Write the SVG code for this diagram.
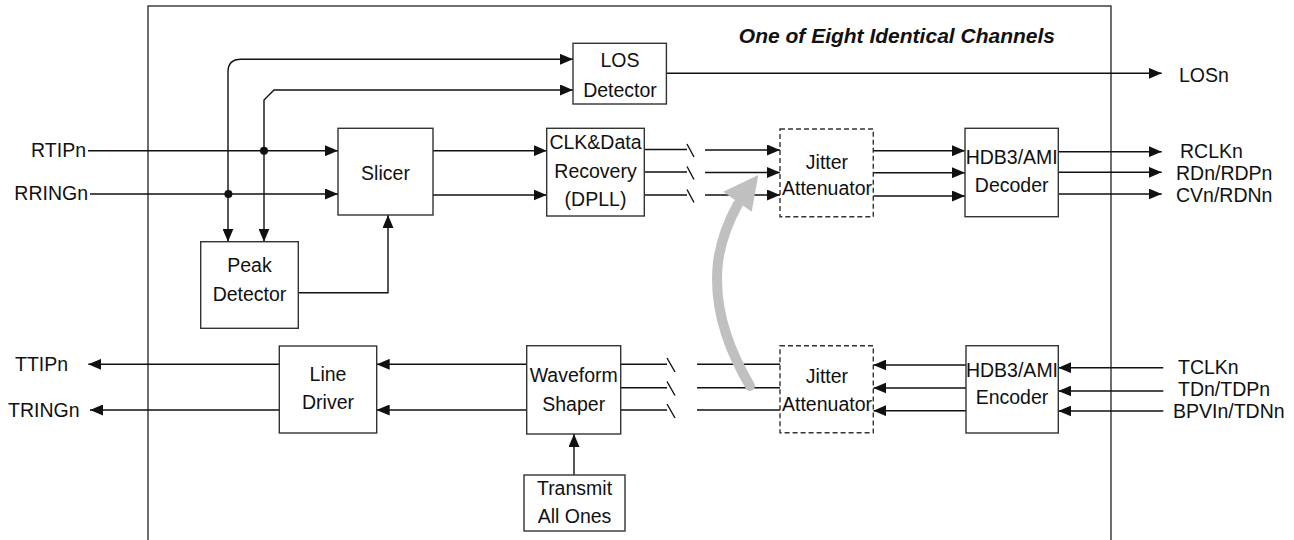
<svg xmlns="http://www.w3.org/2000/svg" width="1294" height="540" viewBox="0 0 1294 540">
<defs>
<marker id="ah" viewBox="0 0 13 11" refX="13" refY="5.5" markerWidth="13" markerHeight="11" markerUnits="userSpaceOnUse" orient="auto-start-reverse">
<path d="M0,0 L13,5.5 L0,11 z" fill="#111"/>
</marker>
<style>
text{font-family:"Liberation Sans",Arial,sans-serif;font-size:19.5px;fill:#111}
.c{text-anchor:middle}
.e{text-anchor:end}
.t{font-weight:bold;font-style:italic;font-size:21px}
.box{fill:#fff;stroke:#333;stroke-width:1.4}
.dash{fill:#fff;stroke:#333;stroke-width:1.4;stroke-dasharray:5,3}
.w{fill:none;stroke:#111;stroke-width:1.4}
.a{fill:none;stroke:#111;stroke-width:1.4;marker-end:url(#ah)}
.aa{fill:none;stroke:#111;stroke-width:1.4;marker-end:url(#ah);marker-start:url(#ah)}
</style>
</defs>
<rect x="148" y="6" width="963" height="560" fill="none" stroke="#333" stroke-width="1.4"/>
<text x="1055" y="43" class="e t">One of Eight Identical Channels</text>

<g id="connectors">
<path class="aa" d="M228,241.7 V72 Q228,59.3 241,59.3 H573"/>
<path class="aa" d="M264,241.7 V100 L274,90 H573"/>
<path class="a" d="M88,150.7 H338"/>
<path class="a" d="M90,194 H338"/>
<circle cx="264" cy="150.7" r="4" fill="#111"/>
<circle cx="228.4" cy="194" r="4" fill="#111"/>
<path class="a" d="M666.4,73.3 H1161.7"/>
<path class="a" d="M433,150.7 H546.7"/>
<path class="a" d="M433,195 H546.7"/>
<path class="a" d="M298.3,292.7 H388 V215"/>
<path class="w" d="M644.3,149.5 H687 M687,144 L694,157 M644.3,172 H687 M687,166.5 L694,179.5 M644.3,195 H687 M687,189.5 L694,202.5"/>
<path class="a" d="M705,150 H780"/>
<path class="a" d="M705,172.5 H780"/>
<path class="a" d="M705,195 H780"/>
<path class="a" d="M873.3,150.7 H965"/>
<path class="a" d="M873.3,172.7 H965"/>
<path class="a" d="M873.3,196 H965"/>
<path class="a" d="M1058.3,151.7 H1161.7"/>
<path class="a" d="M1058.3,172.3 H1161.7"/>
<path class="a" d="M1058.3,194 H1161.7"/>
<path class="a" d="M279.3,364.3 H88.3"/>
<path class="a" d="M279.3,410 H90"/>
<path class="a" d="M526.7,364.3 H376.7"/>
<path class="a" d="M526.7,410 H376.7"/>
<path class="a" d="M574,475 V434"/>
<path class="w" d="M620.7,364.3 H667 M667,358 L675,372 M620.7,387.7 H667 M667,381.5 L675,395.5 M620.7,410 H667 M667,404 L675,418"/>
<path class="w" d="M697,364.3 H780 M697,387.7 H780 M697,410 H780"/>
<path class="a" d="M966,365 H873.3"/>
<path class="a" d="M966,388 H873.3"/>
<path class="a" d="M966,410.7 H873.3"/>
<path class="a" d="M1163.3,367.7 H1058.3"/>
<path class="a" d="M1163.3,391 H1058.3"/>
<path class="a" d="M1163.3,411 H1058.3"/>
</g>

<g id="grey-arrow">
<path d="M750,386 C735,360 712,315 718,262 C721,240 728,222 738,204" fill="none" stroke="#c0c0c0" stroke-width="10" stroke-linecap="round"/>
<path d="M723.3,191.7 L758.3,175 L751.7,211.7 z" fill="#c0c0c0"/>
</g>

<g id="los-detector">
<rect class="box" x="573" y="43.3" width="93.4" height="60.7"/>
<text x="620" y="67" class="c">LOS</text>
<text x="620" y="97" class="c">Detector</text>
</g>
<g id="slicer">
<rect class="box" x="338" y="128.3" width="95" height="86.7"/>
<text x="385.5" y="180" class="c">Slicer</text>
</g>
<g id="clk-data-recovery">
<rect class="box" x="546.7" y="128.3" width="97.6" height="87.7"/>
<text x="595.5" y="149" class="c">CLK&amp;Data</text>
<text x="595.5" y="178" class="c">Recovery</text>
<text x="595.5" y="206" class="c">(DPLL)</text>
</g>
<g id="jitter-attenuator-rx">
<rect class="dash" x="780" y="129" width="93.3" height="87.7"/>
<text x="827" y="169" class="c">Jitter</text>
<text x="827" y="195" class="c">Attenuator</text>
</g>
<g id="hdb3-decoder">
<rect class="box" x="965" y="128.3" width="93.3" height="88.4"/>
<text x="1011.7" y="164" class="c">HDB3/AMI</text>
<text x="1011.7" y="192" class="c">Decoder</text>
</g>
<g id="peak-detector">
<rect class="box" x="200.7" y="241.7" width="97.6" height="86.6"/>
<text x="249.5" y="272" class="c">Peak</text>
<text x="249.5" y="301" class="c">Detector</text>
</g>
<g id="line-driver">
<rect class="box" x="279.3" y="346" width="97.4" height="87"/>
<text x="328" y="381" class="c">Line</text>
<text x="328" y="409" class="c">Driver</text>
</g>
<g id="waveform-shaper">
<rect class="box" x="526.7" y="345.7" width="94" height="88.3"/>
<text x="573.7" y="382" class="c">Waveform</text>
<text x="573.7" y="411" class="c">Shaper</text>
</g>
<g id="transmit-all-ones">
<rect class="box" x="524" y="475" width="101" height="56"/>
<text x="574.5" y="495" class="c">Transmit</text>
<text x="574.5" y="523" class="c">All Ones</text>
</g>
<g id="jitter-attenuator-tx">
<rect class="dash" x="780" y="345.7" width="93.3" height="87"/>
<text x="827" y="382.5" class="c">Jitter</text>
<text x="827" y="411" class="c">Attenuator</text>
</g>
<g id="hdb3-encoder">
<rect class="box" x="966" y="345.7" width="92.3" height="87.3"/>
<text x="1012" y="377" class="c">HDB3/AMI</text>
<text x="1012" y="404" class="c">Encoder</text>
</g>

<g id="labels">
<text x="86" y="157" class="e">RTIPn</text>
<text x="88" y="200" class="e">RRINGn</text>
<text x="1179" y="82">LOSn</text>
<text x="1180" y="158">RCLKn</text>
<text x="1176" y="180">RDn/RDPn</text>
<text x="1176" y="202">CVn/RDNn</text>
<text x="15" y="371">TTIPn</text>
<text x="8" y="417">TRINGn</text>
<text x="1178" y="374">TCLKn</text>
<text x="1178" y="396">TDn/TDPn</text>
<text x="1173" y="418">BPVIn/TDNn</text>
</g>
</svg>
